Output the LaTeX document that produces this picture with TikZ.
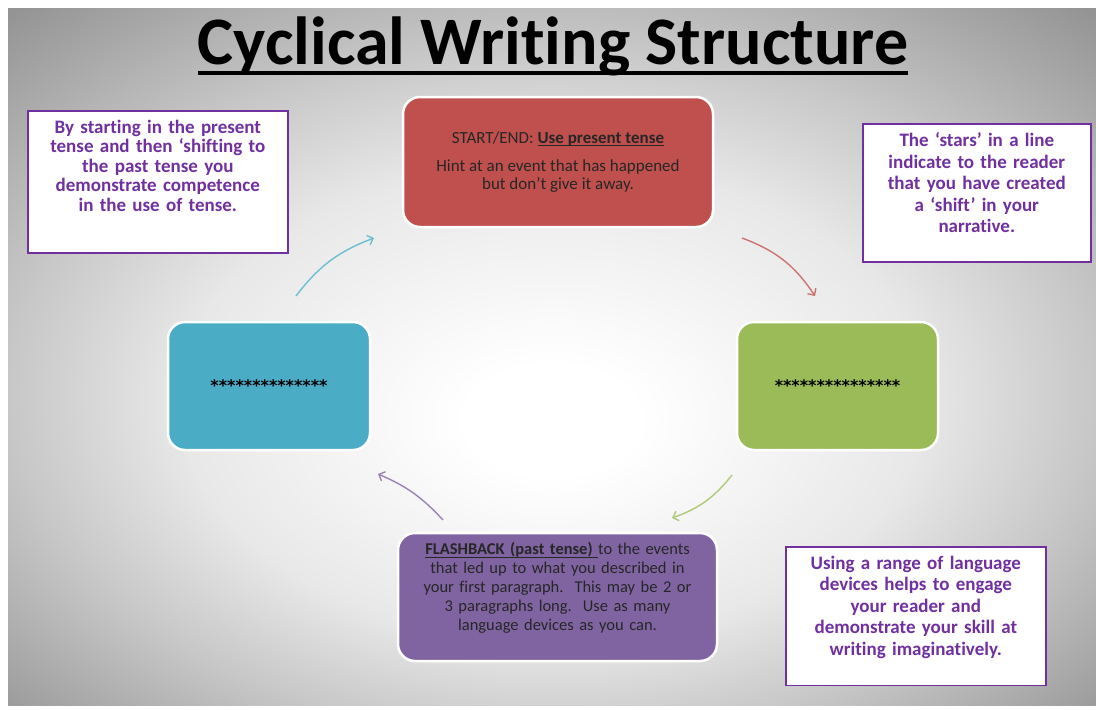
\documentclass[tikz,border=0pt]{standalone}
\usepackage{fontspec}
\setmainfont{Carlito}[Ligatures=NoCommon]
\newfontfamily\starfont{DejaVu Sans}
\usetikzlibrary{arrows.meta}

\definecolor{startred}{HTML}{C0504D}
\definecolor{shiftblue}{HTML}{4BACC6}
\definecolor{shiftgreen}{HTML}{9BBB59}
\definecolor{flashpurple}{HTML}{8064A2}
\definecolor{notepurple}{HTML}{7030A0}
\pgfdeclareradialshading{slidebg}{\pgfpoint{0bp}{-5bp}}{color(0bp)=(white);color(4bp)=(white);color(17bp)=(black!9);color(25bp)=(black!22);color(36bp)=(black!42);color(50bp)=(black!42)}
\newcommand{\ulword}[1]{\setbox0\hbox{#1}\rlap{\vrule width\wd0 height -2pt depth 3pt}\box0}

\begin{document}
\begin{tikzpicture}[x=1pt,y=-1pt]
    \tikzset{stage/.style={draw=white, line width=2.5pt, rounded corners=17pt, text=black!85, align=center, inner sep=0pt}}
    \tikzset{stars/.style={stage, text=black, font=\fontsize{16}{18}\starfont\bfseries, minimum height=128pt}}
    \tikzset{note/.style={draw=notepurple, line width=1.6pt, fill=white, text=notepurple, align=center, anchor=north west, inner xsep=0pt, inner ysep=9pt, font=\fontsize{19}{21.5}\selectfont\bfseries}}
    \tikzset{cyclearrow/.style={line width=1.4pt, -{Straight Barb[length=5pt,width=10pt]}}}
    \useasboundingbox (0,0) rectangle (1096,710);
    \fill [white] (0,0) rectangle (1096,710);
    \shade [shading=slidebg] (8,8) rectangle (1096,705);
    \node [inner sep=0pt, anchor=base, font=\fontsize{68}{80}\selectfont\bfseries] (title) at (553,64) {Cyclical Writing Structure};
    \draw [line width=4pt] ([yshift=-8.5pt]title.base west) -- ([yshift=-8.5pt]title.base east);
    \node [stage, fill=startred, minimum width=310pt, minimum height=130pt, font=\fontsize{17}{18}\selectfont] (startend) at (558,162) {START/END: \ulword{\textbf{Use present tense}}\\[10pt] Hint at an event that has happened\\ but don’t give it away.};
    \node [stars, fill=shiftblue, minimum width=202pt] (shiftleft) at (269,386) {**************};
    \node [stars, fill=shiftgreen, minimum width=201pt] (shiftright) at (837.5,386) {***************};
    \node [stage, fill=flashpurple, minimum width=319pt, minimum height=128pt, text width=310pt, font=\fontsize{16.5}{19}\selectfont] (flashback) at (557.5,597) {\ulword{\textbf{FLASHBACK (past tense)}\ }to the events\\ that led up to what you described in\\ your first paragraph.\ \ This may be 2 or\\ 3 paragraphs long.\ \ Use as many\\ language devices as you can.\par\vspace*{18pt}};
    \node [note, text width=260pt, font=\fontsize{19}{19.5}\selectfont\bfseries] (tensenote) at (27,110) {By starting in the present\\ tense and then ‘shifting to\\ the past tense you\\ demonstrate competence\\ in the use of tense.\par\vspace*{33pt}};
    \node [note, text width=228pt] (starsnote) at (862,123) {The ‘stars’ in a line\\ indicate to the reader\\ that you have created\\ a ‘shift’ in your\\ narrative.\par\vspace*{20pt}};
    \node [note, text width=260pt] (devicenote) at (785,546) {Using a range of language\\ devices helps to engage\\ your reader and\\ demonstrate your skill at\\ writing imaginatively.\par\vspace*{18pt}};
    \coordinate (upfrom) at (296,296);
    \coordinate (upto) at (374,238);
    \coordinate (rightfrom) at (742,238);
    \coordinate (rightto) at (815,296);
    \coordinate (downfrom) at (732,475);
    \coordinate (downto) at (672,518);
    \coordinate (backfrom) at (443,520);
    \coordinate (backto) at (378,474);
    \draw [cyclearrow, shiftblue!80!white] (upfrom) to[bend left=16] (upto);
    \draw [cyclearrow, startred!80!white] (rightfrom) to[bend left=18] (rightto);
    \draw [cyclearrow, shiftgreen!80!white] (downfrom) to[bend left=16] (downto);
    \draw [cyclearrow, flashpurple!80!white] (backfrom) to[bend right=12] (backto);
\end{tikzpicture}
\end{document}
